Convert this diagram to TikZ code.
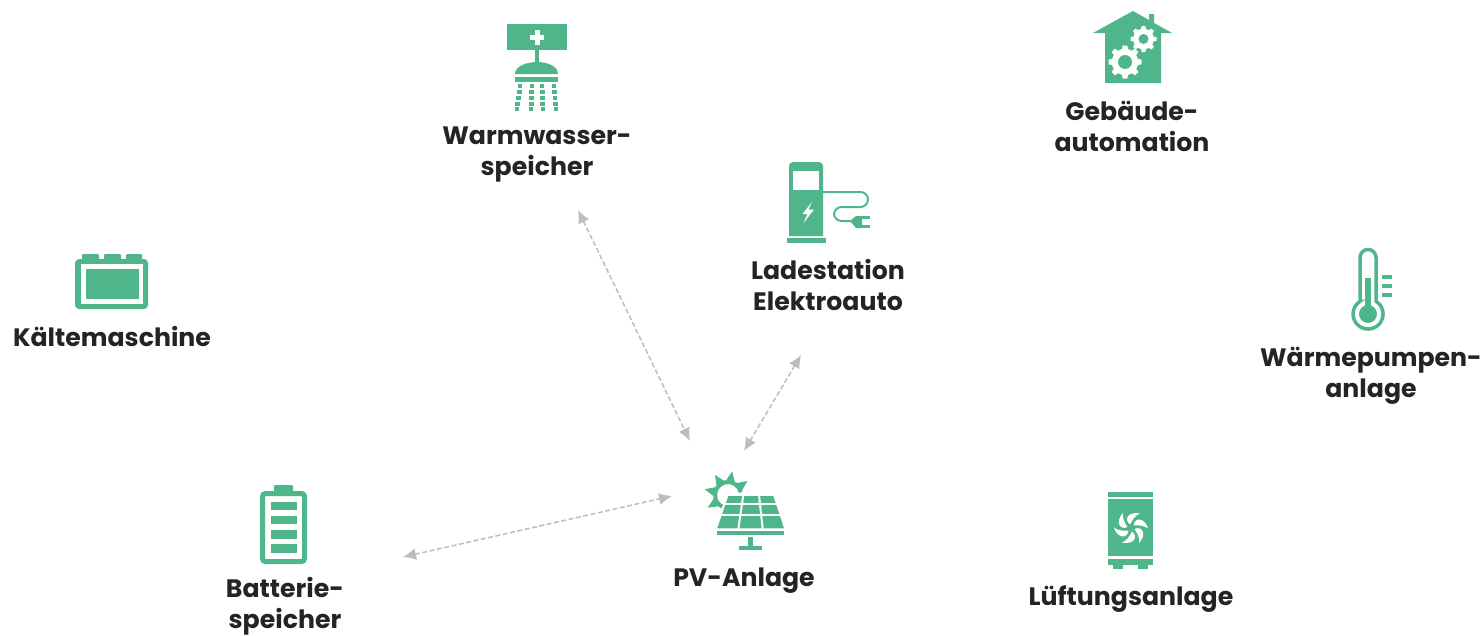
\documentclass[tikz,border=0pt]{standalone}
\usepackage{fontspec}
\setmainfont{Poppins}
\usetikzlibrary{arrows.meta}
\definecolor{icongreen}{HTML}{4FB58B}
\definecolor{labelblack}{HTML}{222426}
\definecolor{linkgray}{HTML}{BDBDBD}
\tikzset{
    iconfill/.style={fill=icongreen},
    iconline/.style={draw=icongreen},
    label/.style={align=center, inner sep=0pt, text=labelblack, font=\fontsize{25.2}{31}\selectfont\bfseries},
    link/.style={draw=linkgray, line width=1.5, dash pattern=on 5pt off 2.5pt, {Latex[length=13pt,width=12pt]}-{Latex[length=13pt,width=12pt]}}
}
\newcommand{\gearicon}[4]{
    \foreach \a in {0,45,...,315}
        \fill[white, shift={(#1,#2)}, rotate=\a] (#3*0.7,-#3*0.2) -- (#3,-#3*0.14) -- (#3,#3*0.14) -- (#3*0.7,#3*0.2) -- cycle;
    \fill[white] (#1,#2) circle (#3*0.8);
    \fill[iconfill] (#1,#2) circle (#4);
}
\begin{document}
\begin{tikzpicture}[x=1pt,y=-1pt]
    \useasboundingbox (0,0) rectangle (1483,635);

    \node[label] (kaelte) at (112,336.5) {Kältemaschine};
    \node[label] (warmwasser) at (537,154.5) {Warmwasser-\\speicher};
    \node[label] (ladestation) at (828,285) {Ladestation\\Elektroauto};
    \node[label] (gebaeude) at (1132,126) {Gebäude-\\automation};
    \node[label] (waermepumpe) at (1371,376) {Wärmepumpen-\\anlage};
    \node[label] (batterie) at (285,606.5) {Batterie-\\speicher};
    \node[label] (pv) at (744,580.5) {PV-Anlage};
    \node[label] (lueftung) at (1131,599) {Lüftungsanlage};

    \coordinate (warmwasserEnd) at (578,210);
    \coordinate (pvTop) at (690,441);
    \coordinate (ladestationEnd) at (801,355);
    \coordinate (pvRight) at (744,451);
    \coordinate (batterieEnd) at (403,557);
    \coordinate (pvLeft) at (672,496);
    \draw[link] (warmwasserEnd) -- (pvTop);
    \draw[link] (ladestationEnd) -- (pvRight);
    \draw[link] (batterieEnd) -- (pvLeft);

    % Kaeltemaschine
    \fill[iconfill, rounded corners=1] (82,254) rectangle (99,260);
    \fill[iconfill, rounded corners=1] (104,254) rectangle (121,260);
    \fill[iconfill, rounded corners=1] (126,254) rectangle (142,260);
    \fill[iconfill, rounded corners=4] (75,259) rectangle (148,309);
    \fill[white] (81,264) rectangle (143,304);
    \fill[iconfill] (86,269) rectangle (139,299);

    % Warmwasserspeicher
    \fill[iconfill] (507,24) rectangle (567,50);
    \fill[white] (530,35) rectangle (544,40);
    \fill[white] (534.5,30) rectangle (539.5,44.5);
    \fill[iconfill] (534.5,50) rectangle (539,63);
    \fill[iconfill] (515,74) .. controls (515,66) and (527,62) .. (537,62) .. controls (547,62) and (558,66) .. (558,74) -- cycle;
    \fill[iconfill] (515,77) rectangle (558,81.5);
    \foreach \x/\d in {520/-3, 532/-1, 542/1, 554/2}
        \foreach \y/\f in {86/0, 92/0.25, 98/0.5, 104/0.75, 109/1}
            \fill[iconfill] (\x+\d*\f-2.3,\y-1.7) rectangle (\x+\d*\f+2.3,\y+1.7);

    % Ladestation
    \fill[iconfill] (789,236) [rounded corners=4] -- (789,162) -- (823,162) [sharp corners] -- (823,236) -- cycle;
    \fill[white] (793,171) rectangle (819,190);
    \fill[white] (812,202) -- (802.5,214) -- (807.5,214) -- (803.5,223) -- (814,209.5) -- (808.5,209.5) -- cycle;
    \fill[iconfill] (787,238) rectangle (826,243);
    \draw[iconline, line width=2, rounded corners=7.5] (823,192) -- (868,192) -- (868,207) -- (834,207) -- (834,221) -- (853,221);
    \fill[iconfill] (850,221) -- (856,216) -- (862,216) -- (862,228) -- (856,228) -- cycle;
    \fill[iconfill] (862,216) rectangle (870,219);
    \fill[iconfill] (862,225) rectangle (870,228);

    % Gebaeudeautomation
    \fill[iconfill] (1093,33) -- (1133,11) -- (1149,20) -- (1149,14) -- (1154,14) -- (1154,23) -- (1172,33) -- (1161,33) -- (1161,83) -- (1105,83) -- (1105,33) -- cycle;
    \gearicon{1125}{62}{16.5}{7}
    \gearicon{1143.5}{39}{13}{5}

    % Waermepumpenanlage
    \draw[iconline, line width=3.5] (1360,301.3) -- (1360,257.5) arc[start angle=180, end angle=360, radius=8] -- (1376,301.3) arc[start angle=-58, end angle=238, radius=15] -- cycle;
    \fill[iconfill] (1365,278) rectangle (1370.5,310);
    \fill[iconfill] (1368,314) circle (9);
    \fill[iconfill] (1382,274.5) rectangle (1392,279);
    \fill[iconfill] (1382,283.5) rectangle (1392,288);
    \fill[iconfill] (1382,292.5) rectangle (1392,297);

    % Batteriespeicher
    \fill[iconfill, rounded corners=1] (274,485) rectangle (293,493);
    \draw[iconline, line width=5, rounded corners=3] (262.5,493.5) rectangle (304.5,561.5);
    \fill[iconfill] (271,502) rectangle (297,510);
    \fill[iconfill] (271,516) rectangle (297,524);
    \fill[iconfill] (271,530) rectangle (297,539);
    \fill[iconfill] (271,544) rectangle (297,553);

    % PV-Anlage
    \draw[iconline, line width=4] (728,495) ++(-12:13) arc[start angle=-12, end angle=-243, radius=13];
    \foreach \a in {36,80,123,166,212}
        \fill[iconfill, shift={(728,495)}, rotate=\a] (24,0) -- (14,-4.5) -- (14,4.5) -- cycle;
    \fill[iconfill] (728.3,496) -- (773.3,496) -- (784,528.3) -- (717.3,528.3) -- cycle;
    \draw[white, line width=2] (725,503.7) -- (780,503.7);
    \draw[white, line width=2] (720,515.3) -- (782,515.3);
    \draw[white, line width=2] (743.3,495) -- (738.3,529);
    \draw[white, line width=2] (759,495) -- (762.7,529);
    \fill[iconfill] (716.7,530.7) rectangle (784,535.3);
    \fill[iconfill] (748.3,537.3) rectangle (752.7,546);
    \fill[iconfill] (739.3,545.7) rectangle (761.7,550);

    % Lueftungsanlage
    \fill[iconfill] (1108,492) rectangle (1153,497);
    \fill[iconfill] (1108,499) rectangle (1153,556);
    \fill[iconfill] (1108,559) rectangle (1153,565);
    \fill[iconfill] (1113,565) rectangle (1123,569);
    \fill[iconfill] (1138,565) rectangle (1148,569);
    \foreach \a in {0,60,...,300}
        \fill[white, shift={(1131,528)}, rotate=\a] (-1,-3.5) .. controls (-8,-9) and (-2,-17) .. (9,-14.5) .. controls (4,-12.5) and (2,-9) .. (-1,-3.5) -- cycle;

\end{tikzpicture}
\end{document}
